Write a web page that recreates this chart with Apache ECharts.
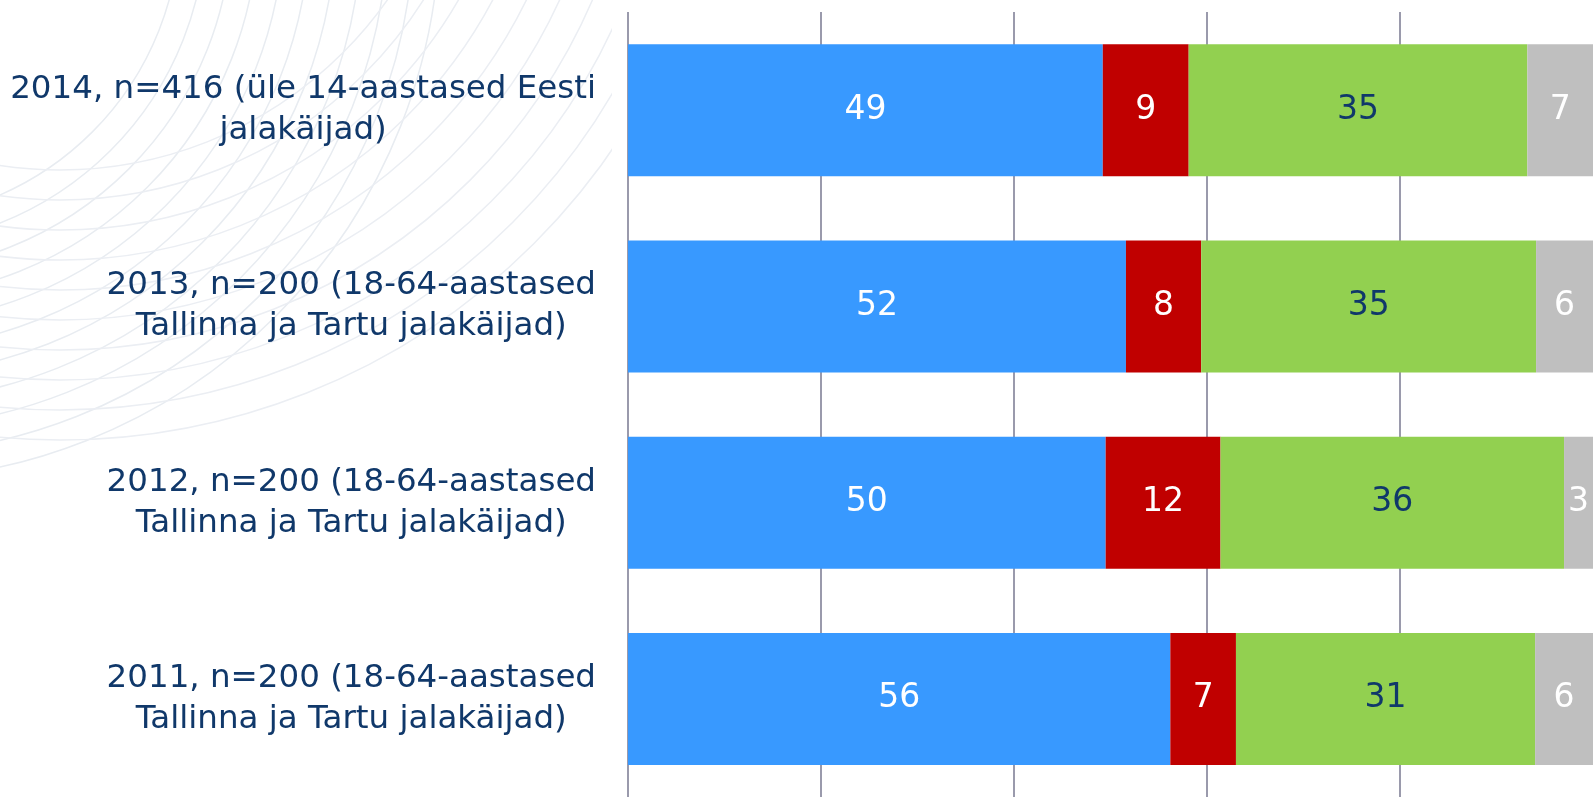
<!DOCTYPE html>
<html>
<head>
<meta charset="utf-8">
<script src="https://cdn.jsdelivr.net/npm/echarts@6/dist/echarts.min.js"></script>
<style>
html,body{margin:0;padding:0;background:#fff;}
#chart{width:1593px;height:797px;}
</style>
</head>
<body>
<div id="chart"></div>
<script>
// ---- data ----
var categories = [
  '2014, n=416 (üle 14-aastased Eesti\njalakäijad)',
  '2013, n=200 (18-64-aastased\nTallinna ja Tartu jalakäijad)',
  '2012, n=200 (18-64-aastased\nTallinna ja Tartu jalakäijad)',
  '2011, n=200 (18-64-aastased\nTallinna ja Tartu jalakäijad)'
];
var seriesBlue  = [49.2, 51.6, 49.5, 56.2];
var seriesRed   = [8.9, 7.8, 11.9, 6.8];
var seriesGreen = [35.1, 34.7, 35.6, 31.0];
var seriesGray  = [6.8, 5.9, 3.0, 6.0];
var xTicks = [0, 20, 40, 60, 80, 100];

var FONT = "'DejaVu Sans', Verdana, sans-serif";
var NAVY = '#10386A';

function makeSeries(name, data, color, labelColor) {
  return {
    name: name,
    type: 'bar',
    stack: 'total',
    data: data,
    barWidth: 132,
    itemStyle: { color: color },
    label: {
      show: true,
      position: 'inside',
      color: labelColor,
      fontFamily: FONT,
      fontSize: 33,
      formatter: function (p) { return Math.round(p.value); }
    }
  };
}

// faint decorative arcs in the background (top-left corner)
var deco = [];
var r;
for (r = 300; r <= 560; r += 26) {
  deco.push({
    type: 'circle', silent: true, z: -10,
    shape: { cx: -120, cy: -80, r: r },
    style: { fill: null, stroke: '#E8ECF1', lineWidth: 1.5 }
  });
}
for (r = 400; r <= 680; r += 30) {
  deco.push({
    type: 'circle', silent: true, z: -10,
    shape: { cx: 60, cy: -230, r: r },
    style: { fill: null, stroke: '#EBEEF3', lineWidth: 1.5 }
  });
}
deco.push({
  type: 'rect', silent: true, z: -5,
  shape: { x: 612, y: 0, width: 1000, height: 797 },
  style: { fill: '#ffffff' }
});

var chart = echarts.init(document.getElementById('chart'));
chart.setOption({
  backgroundColor: '#ffffff',
  animation: false,
  graphic: deco,
  grid: { left: 628, top: 12, width: 971.5, height: 788, containLabel: false },
  xAxis: {
    type: 'value',
    min: xTicks[0],
    max: xTicks[xTicks.length - 1],
    interval: 20,
    axisLabel: { show: false },
    axisLine: { show: false },
    axisTick: { show: false },
    splitLine: { show: true, showMaxLine: false, lineStyle: { color: '#9A9AAC', width: 2 } }
  },
  yAxis: {
    type: 'category',
    data: categories,
    inverse: true,
    axisLine: { show: false },
    axisTick: { show: false },
    axisLabel: {
      margin: 32,
      align: 'right',
      color: NAVY,
      fontFamily: FONT,
      fontSize: 32.5,
      lineHeight: 41,
      formatter: function (v) {
        return v.split('\n').map(function (l) { return '{c|' + l + '}'; }).join('\n');
      },
      rich: {
        c: { align: 'center', color: NAVY, fontFamily: FONT, fontSize: 32.5, lineHeight: 41 }
      }
    }
  },
  series: [
    makeSeries('a', seriesBlue, '#3899FF', '#ffffff'),
    makeSeries('b', seriesRed, '#C00000', '#ffffff'),
    makeSeries('c', seriesGreen, '#92D050', NAVY),
    makeSeries('d', seriesGray, '#BFBFBF', '#ffffff')
  ]
});
</script>
</body>
</html>
